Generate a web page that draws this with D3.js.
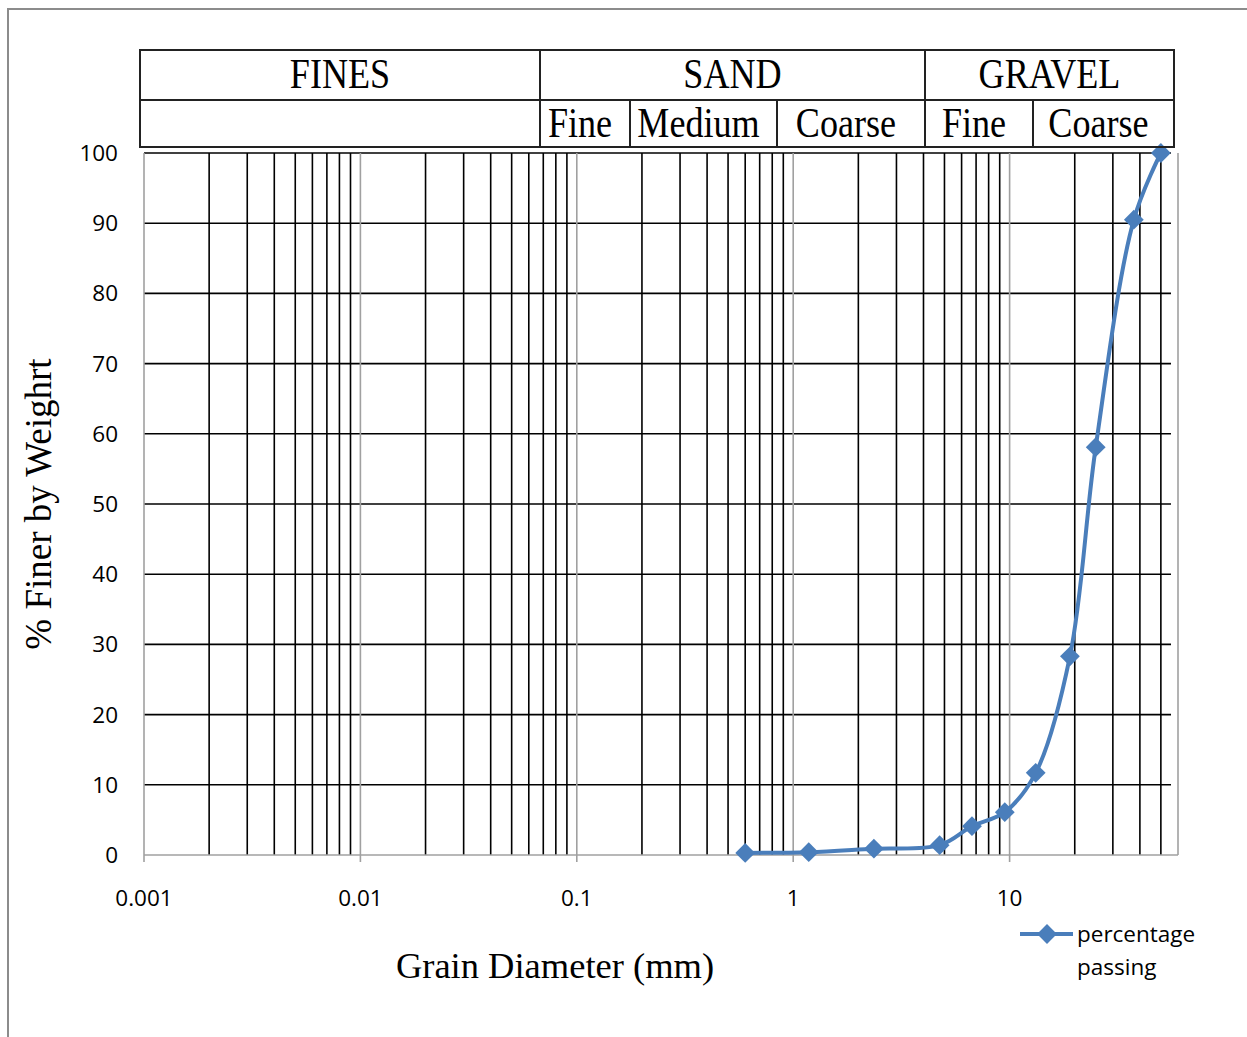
<!DOCTYPE html>
<html>
<head>
<meta charset="utf-8">
<script src="https://cdn.jsdelivr.net/npm/d3@7"></script>
<style>
  body { margin: 0; background: #fff; }
  svg { display: block; }
</style>
</head>
<body>
<div id="chart"></div>
<script>
// sieve data
const grainSize = [0.6, 1.18, 2.36, 4.75, 6.7, 9.5, 13.2, 19, 25, 37.5, 50];
const percentPassing = [0.3, 0.4, 0.9, 1.4, 4.1, 6.1, 11.7, 28.3, 58.1, 90.5, 100];
const seriesName = ["percentage", "passing"];

const xTicks = [0.001, 0.01, 0.1, 1, 10];
const yTicks = [0, 10, 20, 30, 40, 50, 60, 70, 80, 90, 100];

// header table text
const headerGroups = ["FINES", "SAND", "GRAVEL"];
const headerSubs = ["", "Fine", "Medium", "Coarse", "Fine", "Coarse"];

// layout
const W = 1247, H = 1037;
const PLOT = {left: 144, right: 1178, top: 153, bottom: 855};
const groupEdges = [140, 540, 925, 1174];
const subEdges = [140, 540, 630, 777, 925, 1033, 1174];
const TABLE = {top: 50, mid: 100, bottom: 147};
const BLUE = "#4a7ebb";
const LABEL_FONT = 22.5;

const svg = d3.select("#chart")
  .append("svg")
    .attr("width", W)
    .attr("height", H);

// outer frame (only top and left edge visible)
svg.append("path")
  .attr("d", "M8,1037 L8,9 L1247,9")
  .attr("fill", "none")
  .attr("stroke", "#8c8c8c")
  .attr("stroke-width", 2);

const x = d3.scaleLog()
  .domain([0.001, 60])
  .range([PLOT.left, PLOT.right]);

const y = d3.scaleLinear()
  .domain([0, 100])
  .range([PLOT.bottom, PLOT.top]);

// minor vertical lines: 2..9 of every decade, up to 50
const minors = [];
for (let d of xTicks) {
  for (let k = 2; k <= 9; k++) {
    const v = d * k;
    if (v <= 50.0001) minors.push(v);
  }
}

svg.append("g")
  .selectAll("line")
  .data(minors)
  .join("line")
    .attr("x1", d => x(d)).attr("x2", d => x(d))
    .attr("y1", PLOT.top).attr("y2", PLOT.bottom)
    .attr("stroke", "#000")
    .attr("stroke-width", 1.6);

// horizontal grid
svg.append("g")
  .selectAll("line")
  .data(yTicks.filter(d => d > 0))
  .join("line")
    .attr("x1", PLOT.left).attr("x2", PLOT.right - 7)
    .attr("y1", d => y(d)).attr("y2", d => y(d))
    .attr("stroke", "#000")
    .attr("stroke-width", 1.6);

// major decade lines (grey), running down as ticks
svg.append("g")
  .selectAll("line")
  .data(xTicks)
  .join("line")
    .attr("x1", d => x(d)).attr("x2", d => x(d))
    .attr("y1", PLOT.top).attr("y2", PLOT.bottom + 7)
    .attr("stroke", "#a0a0a0")
    .attr("stroke-width", 1.6);

// plot border right + bottom axis
svg.append("line")
  .attr("x1", PLOT.right).attr("x2", PLOT.right)
  .attr("y1", PLOT.top).attr("y2", PLOT.bottom)
  .attr("stroke", "#a0a0a0").attr("stroke-width", 1.6);
svg.append("line")
  .attr("x1", PLOT.left).attr("x2", PLOT.right)
  .attr("y1", PLOT.bottom).attr("y2", PLOT.bottom)
  .attr("stroke", "#a0a0a0").attr("stroke-width", 1.6);

// tick labels
svg.append("g")
  .selectAll("text")
  .data(yTicks)
  .join("text")
    .attr("x", 118)
    .attr("y", d => y(d) + 8)
    .attr("text-anchor", "end")
    .attr("font-family", "Open Sans")
    .attr("font-size", LABEL_FONT)
    .attr("fill", "#000")
    .text(d => d);

svg.append("g")
  .selectAll("text")
  .data(xTicks)
  .join("text")
    .attr("x", d => x(d))
    .attr("y", 906)
    .attr("text-anchor", "middle")
    .attr("font-family", "Open Sans")
    .attr("font-size", LABEL_FONT)
    .attr("fill", "#000")
    .text(d => d);

// axis titles
svg.append("text")
  .attr("transform", "translate(51,504) rotate(-90)")
  .attr("text-anchor", "middle")
  .attr("font-family", "Liberation Serif")
  .attr("font-size", 37)
  .text("% Finer by Weighrt");

svg.append("text")
  .attr("x", 555)
  .attr("y", 978)
  .attr("text-anchor", "middle")
  .attr("font-family", "Liberation Serif")
  .attr("font-size", 36.5)
  .text("Grain Diameter (mm)");

// curve
const pts = grainSize.map((g, i) => ({g, p: percentPassing[i]}));
svg.append("path")
  .datum(pts)
  .attr("fill", "none")
  .attr("stroke", BLUE)
  .attr("stroke-width", 4)
  .attr("d", d3.line()
    .x(d => x(d.g))
    .y(d => y(d.p))
    .curve(d3.curveCatmullRom.alpha(0.5)));

const diamond = d3.symbol().type(d3.symbolDiamond2).size(250);
svg.append("g")
  .selectAll("path")
  .data(pts)
  .join("path")
    .attr("transform", d => `translate(${x(d.g)},${y(d.p)})`)
    .attr("d", diamond)
    .attr("fill", BLUE);

// legend
const lg = svg.append("g").attr("transform", "translate(1020,934)");
lg.append("line")
  .attr("x1", 0).attr("x2", 53)
  .attr("stroke", BLUE).attr("stroke-width", 4);
lg.append("path")
  .attr("transform", "translate(27,0)")
  .attr("d", diamond)
  .attr("fill", BLUE);
lg.selectAll("text")
  .data(seriesName)
  .join("text")
    .attr("x", 57)
    .attr("y", (d, i) => 8 + i * 33)
    .attr("font-family", "Open Sans")
    .attr("font-size", LABEL_FONT)
    .text(d => d);

// header table
const tbl = svg.append("g")
  .attr("fill", "none")
  .attr("stroke", "#222")
  .attr("stroke-width", 2);
tbl.append("rect")
  .attr("x", groupEdges[0]).attr("y", TABLE.top)
  .attr("width", groupEdges[3] - groupEdges[0])
  .attr("height", TABLE.bottom - TABLE.top);
tbl.append("line")
  .attr("x1", groupEdges[0]).attr("x2", groupEdges[3])
  .attr("y1", TABLE.mid).attr("y2", TABLE.mid);
tbl.selectAll(".gv")
  .data(groupEdges.slice(1, -1))
  .join("line")
    .attr("class", "gv")
    .attr("x1", d => d).attr("x2", d => d)
    .attr("y1", TABLE.top).attr("y2", TABLE.bottom);
tbl.selectAll(".sv")
  .data([subEdges[2], subEdges[3], subEdges[5]])
  .join("line")
    .attr("class", "sv")
    .attr("x1", d => d).attr("x2", d => d)
    .attr("y1", TABLE.mid).attr("y2", TABLE.bottom);

const headText = (sel, cx, by) => sel
  .attr("transform", d => `translate(${cx(d)},${by}) scale(0.86,1)`)
  .attr("text-anchor", "middle")
  .attr("font-family", "Liberation Serif")
  .attr("font-size", 42)
  .attr("fill", "#000")
  .text(d => d.t);

svg.append("g")
  .selectAll("text")
  .data(headerGroups.map((t, i) => ({t, i})))
  .join("text")
  .call(headText, d => (groupEdges[d.i] + groupEdges[d.i + 1]) / 2, 88);

svg.append("g")
  .selectAll("text")
  .data(headerSubs.map((t, i) => ({t, i})))
  .join("text")
  .call(headText, d => (subEdges[d.i] + subEdges[d.i + 1]) / 2 - 5, 137);
</script>
</body>
</html>
